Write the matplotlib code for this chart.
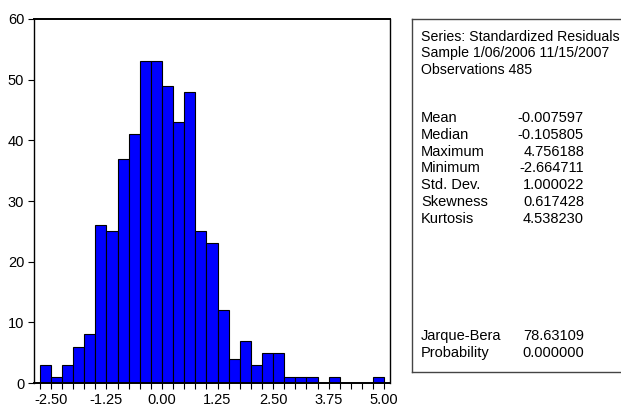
import numpy as np
import matplotlib
matplotlib.use('Agg')
import matplotlib.pyplot as plt
from matplotlib.lines import Line2D

# --- DATA ---
BIN_START = -2.75
BIN_WIDTH = 0.25
counts = [3, 1, 3, 6, 8, 26, 25, 37, 41, 53, 53, 49, 43, 48, 25, 23,
          12, 4, 7, 3, 5, 5, 1, 1, 1, 0, 1, 0, 0, 0, 1]
x_ticks = [-2.50, -1.25, 0.00, 1.25, 2.50, 3.75, 5.00]
y_ticks = [0, 10, 20, 30, 40, 50, 60]

header = ["Series: Standardized Residuals",
          "Sample 1/06/2006 11/15/2007",
          "Observations 485"]
stat_names = ["Mean", "Median", "Maximum", "Minimum", "Std. Dev.", "Skewness", "Kurtosis"]
stat_values = ["-0.007597", "-0.105805", "4.756188", "-2.664711", "1.000022", "0.617428", "4.538230"]
test_names = ["Jarque-Bera", "Probability"]
test_values = ["78.63109", "0.000000"]

W, H = 621, 419
plt.rcParams['font.family'] = ['Liberation Sans Narrow', 'Liberation Sans', 'DejaVu Sans']
FS = 10.5

fig = plt.figure(figsize=(W / 100, H / 100), dpi=100)


def px(x, y):
    # pixel (from top-left) -> figure fraction
    return x / W, 1 - y / H


# --- HISTOGRAM ---
L, T, R, B = 34, 19, 390, 383
ax = fig.add_axes([L / W, (H - B) / H, (R - L) / W, (B - T) / H])
edges = BIN_START + BIN_WIDTH * np.arange(len(counts))
ax.bar(edges, counts, width=BIN_WIDTH, align='edge', color='#0000FF',
       edgecolor='black', linewidth=0.8)
ax.set_xlim(-2.88, 5.13)
ax.set_ylim(0, 60)
ax.set_xticks(x_ticks)
ax.set_xticklabels([f"{v:.2f}" for v in x_ticks])
ax.set_xticks(np.arange(-2.75, 5.01, 0.25), minor=True)
ax.set_yticks(y_ticks)
ax.tick_params(axis='both', direction='out', length=4, width=0.8, labelsize=FS, pad=3)
ax.tick_params(axis='x', which='minor', length=4, width=0.8)
for s in ax.spines.values():
    s.set_linewidth(1.0)
ax.spines['top'].set_linewidth(1.4)
ax.spines['bottom'].set_linewidth(1.4)

# --- STATS BOX ---
bl, bt, bb, br = 412, 19, 372, 640
for (x0, y0), (x1, y1) in [((bl, bt), (br, bt)), ((bl, bt), (bl, bb)), ((bl, bb), (br, bb))]:
    a, b = px(x0, y0)
    c, d = px(x1, y1)
    fig.add_artist(Line2D([a, c], [b, d], color='#444444', linewidth=1.0))

lx, vx = 421, 584
y = 37
for line in header:
    fig.text(*px(lx, y), line, fontsize=10.2, va='center', ha='left')
    y += 16.5
y = 118
for n, v in zip(stat_names, stat_values):
    fig.text(*px(lx, y), n, fontsize=FS, va='center', ha='left')
    fig.text(*px(vx, y), v, fontsize=FS, va='center', ha='right')
    y += 16.8
y = 336
for n, v in zip(test_names, test_values):
    fig.text(*px(lx, y), n, fontsize=FS, va='center', ha='left')
    fig.text(*px(vx, y), v, fontsize=FS, va='center', ha='right')
    y += 17

fig.savefig('out.png', dpi=100)
